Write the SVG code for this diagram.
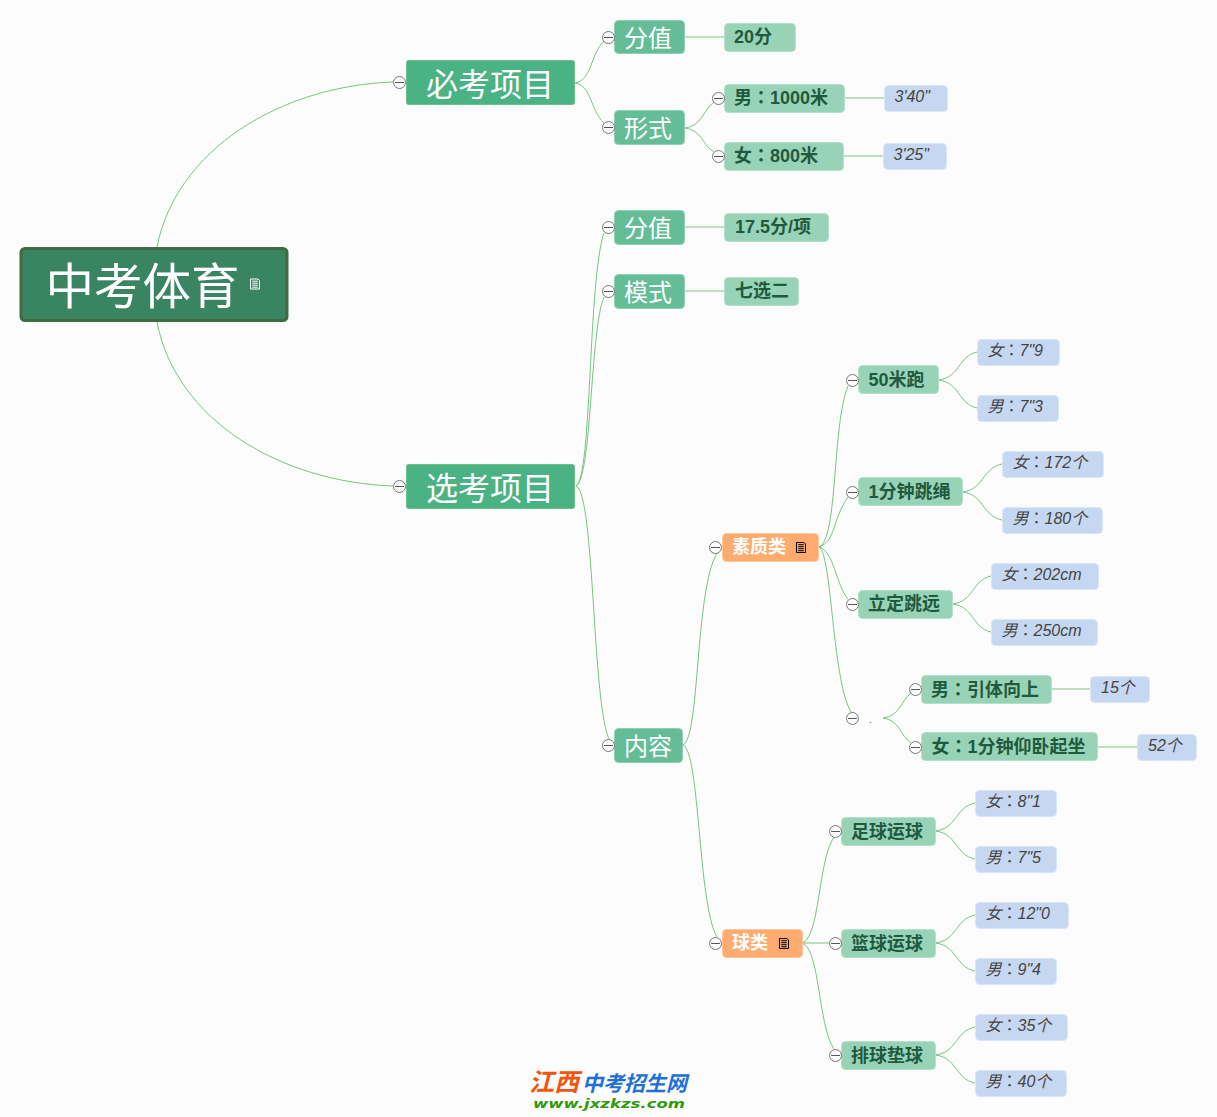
<svg xmlns="http://www.w3.org/2000/svg" width="1217" height="1117" viewBox="0 0 1217 1117">
<style>
text{font-family:"Liberation Sans","Noto Sans CJK SC",sans-serif}
.k{font-family:"Noto Sans CJK TC",sans-serif;font-style:normal}
.c{fill:none;stroke:#78c482;stroke-width:1}
.r{fill:#3a8561;stroke:#3f6a42;stroke-width:3}
.a{fill:#4bb283;stroke:#6dc08a;stroke-width:1}
.b{fill:#65bd97;stroke:#8fd0b2;stroke-width:1}
.g{fill:#99d3b7;stroke:#b5e0cb;stroke-width:1}
.o{fill:#fdab6e;stroke:#fdc79e;stroke-width:1}
.l{fill:#c6d8f1;stroke:#dbe6f6;stroke-width:1}
.tw{fill:#fff}
.tg{fill:#1f5a3e;font-size:18px;font-weight:bold;transform:translateY(1px)}
.to{fill:#fff;font-size:18px;font-weight:bold;transform:translateY(1px)}
.tl{fill:#444;font-size:16px;font-style:italic;transform:translateX(-.5px)}
.t2{font-size:24px}
.t1{font-size:32px}
.cc{fill:#fdfdfd;stroke:#777;stroke-width:1}
.cm{stroke:#555;stroke-width:1;fill:none}
</style>
<defs>
<g id="m"><circle class="cc" cx=".5" cy=".5" r="6"/><path class="cm" d="M-4 .5H5"/></g>
<g id="n"><path d="M-4.500-5H3L4.500-3.500V5H-4.500Z M-2.800-2.800H2.800M-2.800-.8H2.800M-2.800 1.200H2.800M-2.800 3.200H2.800"/></g>
</defs>
<rect width="1217" height="1117" fill="#fcfcfc"/>
<g id="connectors">
<path class="c" d="M157 247C176 150 280 86 393 82"/>
<path class="c" d="M157 322C176 420 280 482 393 486"/>
<path class="c" d="M575 83C592 80 590 55 604 41"/>
<path class="c" d="M575 83C592 86 590 110 604 123"/>
<path class="c" d="M576 486C592 478 588 280 604 233"/>
<path class="c" d="M576 486C592 478 590 330 604 297"/>
<path class="c" d="M576 486C595 492 592 710 610 741"/>
<path class="c" d="M685 37H724"/>
<path class="c" d="M685 128C702 126 703 110 714 102"/>
<path class="c" d="M685 128C702 130 703 146 714 152"/>
<path class="c" d="M685 227H724"/>
<path class="c" d="M685 291H724"/>
<path class="c" d="M844 98H884"/>
<path class="c" d="M843 156H883"/>
<path class="c" d="M683 745C700 738 695 590 717 553"/>
<path class="c" d="M683 745C700 752 698 905 717 937"/>
<path class="c" d="M819 547C838 540 832 425 848 386"/>
<path class="c" d="M819 547C836 541 832 520 848 497"/>
<path class="c" d="M819 547C834 551 836 585 848 599"/>
<path class="c" d="M819 547C832 553 832 680 851 712"/>
<path class="c" d="M883 718C900 716 900 702 911 693"/>
<path class="c" d="M883 718C900 720 900 736 911 743"/>
<path class="c" d="M1051 689H1090"/>
<path class="c" d="M1097 747H1137"/>
<path class="c" d="M938 380C960 378 958 356 977 352"/>
<path class="c" d="M938 380C960 382 958 404 977 408"/>
<path class="c" d="M962 492C984 490 982 468 1002 464"/>
<path class="c" d="M962 492C984 494 982 516 1002 520"/>
<path class="c" d="M952 604C974 602 972 580 991 576"/>
<path class="c" d="M952 604C974 606 972 628 991 632"/>
<path class="c" d="M802 943C820 938 818 860 834 837"/>
<path class="c" d="M802 943H829"/>
<path class="c" d="M802 943C820 948 818 1026 834 1049"/>
<path class="c" d="M935 831C957 829 955 807 975 803"/>
<path class="c" d="M935 831C957 833 955 855 975 859"/>
<path class="c" d="M935 943C957 941 955 919 975 915"/>
<path class="c" d="M935 943C957 945 955 967 975 971"/>
<path class="c" d="M935 1055C957 1053 955 1031 975 1027"/>
<path class="c" d="M935 1055C957 1057 955 1079 975 1083"/>
</g>
<g id="root"><rect class="r" x="21" y="248.500" width="266" height="72" rx="4"/><text class="tw" x="45.500" y="304" font-size="48.500">中考体育</text><use href="#n" x="255" y="284" fill="none" stroke="#fff"/></g>
<g id="n-bikao"><rect class="a" x="406.500" y="60.500" width="168" height="44" rx="2"/><text class="tw t1" x="426" y="96">必考项目</text><use href="#m" x="399" y="82"/></g>
<g id="n-xuankao"><rect class="a" x="406.500" y="464.500" width="168" height="44" rx="2"/><text class="tw t1" x="426" y="500">选考项目</text><use href="#m" x="399" y="486"/></g>
<g id="n-fenzhi1"><rect class="b" x="614.500" y="20.500" width="70" height="33" rx="4"/><text class="tw t2" x="624" y="47">分值</text><use href="#m" x="608" y="37"/></g>
<g id="n-xingshi"><rect class="b" x="614.500" y="110.500" width="70" height="34" rx="4"/><text class="tw t2" x="624" y="137">形式</text><use href="#m" x="608" y="127"/></g>
<g id="n-fenzhi2"><rect class="b" x="614.500" y="210.500" width="70" height="34" rx="4"/><text class="tw t2" x="624" y="237">分值</text><use href="#m" x="608" y="227"/></g>
<g id="n-moshi"><rect class="b" x="614.500" y="274.500" width="70" height="34" rx="4"/><text class="tw t2" x="624" y="301">模式</text><use href="#m" x="608" y="291"/></g>
<g id="n-neirong"><rect class="b" x="614.500" y="728.500" width="68" height="34" rx="4"/><text class="tw t2" x="624" y="755">内容</text><use href="#m" x="608" y="745"/></g>
<g id="n-20"><rect class="g" x="724.500" y="23.500" width="71" height="28" rx="4"/><text class="tg" x="734" y="42">20分</text></g>
<g id="n-m1000"><rect class="g" x="724.500" y="84.500" width="120" height="28" rx="4"/><text class="tg" x="734" y="103">男<tspan class="k">：</tspan>1000米</text><use href="#m" x="718" y="98"/></g>
<g id="n-f800"><rect class="g" x="724.500" y="142.500" width="119" height="28" rx="4"/><text class="tg" x="734" y="161">女<tspan class="k">：</tspan>800米</text><use href="#m" x="718" y="156"/></g>
<g id="n-175"><rect class="g" x="724.500" y="213.500" width="104" height="28" rx="4"/><text class="tg" x="735" y="232">17.5分/项</text></g>
<g id="n-7x2"><rect class="g" x="724.500" y="277.500" width="74" height="28" rx="4"/><text class="tg" x="735" y="296">七选二</text></g>
<g id="n-340"><rect class="l" x="884.500" y="85.500" width="63" height="26" rx="4"/><text class="tl" x="895" y="102">3'40"</text></g>
<g id="n-325"><rect class="l" x="883.500" y="143.500" width="63" height="26" rx="4"/><text class="tl" x="894" y="160">3'25"</text></g>
<g id="n-suzhi"><rect class="o" x="722.500" y="533.500" width="96" height="28" rx="4"/><text class="to" x="732" y="552">素质类</text><use href="#n" x="801" y="547.500" fill="none" stroke="#000"/><use href="#m" x="715" y="547"/></g>
<g id="n-qiu"><rect class="o" x="722.500" y="929.500" width="80" height="28" rx="4"/><text class="to" x="732" y="948">球类</text><use href="#n" x="784" y="943.500" fill="none" stroke="#000"/><use href="#m" x="715" y="943"/></g>
<g id="n-50"><rect class="g" x="858.500" y="365.500" width="80" height="28" rx="4"/><text class="tg" x="868.500" y="385">50米跑</text><use href="#m" x="852" y="380"/></g>
<g id="n-1m"><rect class="g" x="858.500" y="477.500" width="104" height="28" rx="4"/><text class="tg" x="868.500" y="497">1分钟跳绳</text><use href="#m" x="852" y="492"/></g>
<g id="n-ld"><rect class="g" x="858.500" y="590.500" width="94" height="28" rx="4"/><text class="tg" x="868" y="609">立定跳远</text><use href="#m" x="852" y="604"/></g>
<g id="n-dot"><text x="869" y="723" font-size="10" fill="#555">.</text><use href="#m" x="852" y="718"/></g>
<g id="n-yt"><rect class="g" x="921.500" y="675.500" width="130" height="28" rx="4"/><text class="tg" x="931" y="695">男<tspan class="k">：</tspan>引体向上</text><use href="#m" x="915" y="689"/></g>
<g id="n-yw"><rect class="g" x="921.500" y="732.500" width="176" height="28" rx="4"/><text class="tg" x="931.500" y="752">女<tspan class="k">：</tspan>1分钟仰卧起坐</text><use href="#m" x="915" y="747"/></g>
<g id="n-zq"><rect class="g" x="841.500" y="817.500" width="94" height="28" rx="4"/><text class="tg" x="851" y="837">足球运球</text><use href="#m" x="835" y="831"/></g>
<g id="n-lq"><rect class="g" x="841.500" y="929.500" width="94" height="28" rx="4"/><text class="tg" x="851" y="949">篮球运球</text><use href="#m" x="835" y="943"/></g>
<g id="n-pq"><rect class="g" x="841.500" y="1041.500" width="94" height="28" rx="4"/><text class="tg" x="851" y="1061">排球垫球</text><use href="#m" x="835" y="1055"/></g>
<g id="l1"><rect class="l" x="977.500" y="339.500" width="82" height="26" rx="4"/><text class="tl" x="988" y="356">女<tspan class="k">：</tspan>7"9</text></g>
<g id="l2"><rect class="l" x="977.500" y="395.500" width="81" height="26" rx="4"/><text class="tl" x="988" y="412">男<tspan class="k">：</tspan>7"3</text></g>
<g id="l3"><rect class="l" x="1002.500" y="451.500" width="101" height="26" rx="4"/><text class="tl" x="1013" y="468">女<tspan class="k">：</tspan>172个</text></g>
<g id="l4"><rect class="l" x="1002.500" y="507.500" width="100" height="26" rx="4"/><text class="tl" x="1013" y="524">男<tspan class="k">：</tspan>180个</text></g>
<g id="l5"><rect class="l" x="991.500" y="563.500" width="107" height="26" rx="4"/><text class="tl" x="1002" y="580">女<tspan class="k">：</tspan>202cm</text></g>
<g id="l6"><rect class="l" x="991.500" y="619.500" width="106" height="26" rx="4"/><text class="tl" x="1002" y="636">男<tspan class="k">：</tspan>250cm</text></g>
<g id="l7"><rect class="l" x="1090.500" y="676.500" width="59" height="26" rx="4"/><text class="tl" x="1101.500" y="693">15个</text></g>
<g id="l8"><rect class="l" x="1137.500" y="734.500" width="59" height="26" rx="4"/><text class="tl" x="1148.500" y="751">52个</text></g>
<g id="l9"><rect class="l" x="975.500" y="790.500" width="81" height="26" rx="4"/><text class="tl" x="986" y="807">女<tspan class="k">：</tspan>8"1</text></g>
<g id="l10"><rect class="l" x="975.500" y="846.500" width="81" height="26" rx="4"/><text class="tl" x="986" y="863">男<tspan class="k">：</tspan>7"5</text></g>
<g id="l11"><rect class="l" x="975.500" y="902.500" width="93" height="26" rx="4"/><text class="tl" x="986" y="919">女<tspan class="k">：</tspan>12"0</text></g>
<g id="l12"><rect class="l" x="975.500" y="958.500" width="81" height="26" rx="4"/><text class="tl" x="986" y="975">男<tspan class="k">：</tspan>9"4</text></g>
<g id="l13"><rect class="l" x="975.500" y="1014.500" width="92" height="26" rx="4"/><text class="tl" x="986" y="1031">女<tspan class="k">：</tspan>35个</text></g>
<g id="l14"><rect class="l" x="975.500" y="1070.500" width="91" height="26" rx="4"/><text class="tl" x="986" y="1087">男<tspan class="k">：</tspan>40个</text></g>
<g id="logo" font-weight="bold" font-style="italic">
<text x="529" y="1091" font-size="25" fill="#f0560f">江西</text>
<text x="582" y="1091" font-size="21" fill="#1f6fd8">中考招生网</text>
<text x="533" y="1108" font-size="13" fill="#2f9a0a" style="font-family:'DejaVu Sans',sans-serif" textLength="152" lengthAdjust="spacingAndGlyphs">www.jxzkzs.com</text>
</g>
</svg>
